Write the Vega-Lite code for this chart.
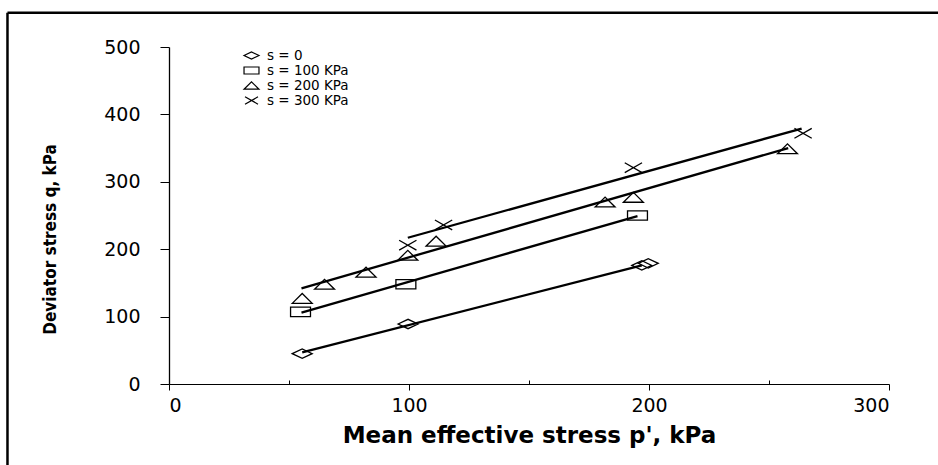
{
  "$schema": "https://vega.github.io/schema/vega-lite/v6.json",
  "width": 720,
  "height": 337,
  "autosize": {"type": "none"},
  "padding": {"left": 169, "top": 47, "right": 49, "bottom": 81},
  "background": "white",
  "config": {
    "view": {"stroke": null},
    "axis": {"domainColor": "black", "tickColor": "black", "labelColor": "black", "titleColor": "black", "grid": false}
  },
  "datasets": {
    "points": [
      {"series": "s = 0", "p": 55.5, "q": 45},
      {"series": "s = 0", "p": 99.6, "q": 89},
      {"series": "s = 0", "p": 197, "q": 176},
      {"series": "s = 0", "p": 199.7, "q": 179},
      {"series": "s = 100 KPa", "p": 54.8, "q": 107},
      {"series": "s = 100 KPa", "p": 98.7, "q": 148},
      {"series": "s = 100 KPa", "p": 195.2, "q": 250},
      {"series": "s = 200 KPa", "p": 55.5, "q": 127},
      {"series": "s = 200 KPa", "p": 64.8, "q": 148},
      {"series": "s = 200 KPa", "p": 82.1, "q": 166},
      {"series": "s = 200 KPa", "p": 99.5, "q": 191},
      {"series": "s = 200 KPa", "p": 111.3, "q": 212},
      {"series": "s = 200 KPa", "p": 181.7, "q": 270},
      {"series": "s = 200 KPa", "p": 193.5, "q": 277},
      {"series": "s = 200 KPa", "p": 257.7, "q": 349},
      {"series": "s = 300 KPa", "p": 99.5, "q": 206},
      {"series": "s = 300 KPa", "p": 114.4, "q": 236},
      {"series": "s = 300 KPa", "p": 193.5, "q": 321},
      {"series": "s = 300 KPa", "p": 264.2, "q": 372}
    ],
    "fits": [
      {"series": "s = 0", "p": 55.5, "q": 47},
      {"series": "s = 0", "p": 197, "q": 176},
      {"series": "s = 100 KPa", "p": 55.2, "q": 106},
      {"series": "s = 100 KPa", "p": 195.2, "q": 249},
      {"series": "s = 200 KPa", "p": 55.2, "q": 142},
      {"series": "s = 200 KPa", "p": 258, "q": 350},
      {"series": "s = 300 KPa", "p": 99.5, "q": 217},
      {"series": "s = 300 KPa", "p": 263.6, "q": 379}
    ]
  },
  "layer": [
    {
      "data": {"name": "fits"},
      "mark": {"type": "line", "color": "black", "strokeWidth": 2.3},
      "encoding": {
        "x": {"field": "p", "type": "quantitative", "scale": {"domain": [0, 300], "nice": false},
          "axis": {"orient": "bottom", "values": [0, 50, 100, 150, 200, 250, 300],
            "tickSize": {"condition": {"test": "datum.value % 100 === 0", "value": 6}, "value": -4},
            "labelExpr": "datum.value % 100 === 0 ? datum.label : ''",
            "domainWidth": 1, "labelFont": "DejaVu Sans", "labelFontSize": 19, "labelPadding": 6,
            "title": "Mean effective stress p', kPa", "titleFont": "DejaVu Sans", "titleFontSize": 23, "titleFontWeight": "bold", "titlePadding": 9}},
        "y": {"field": "q", "type": "quantitative", "scale": {"domain": [0, 500], "nice": false},
          "axis": {"orient": "left", "values": [0, 50, 100, 150, 200, 250, 300, 350, 400, 450, 500],
            "tickSize": {"condition": {"test": "datum.value % 100 === 0", "value": 9}, "value": -6},
            "labelExpr": "datum.value % 100 === 0 ? datum.label : ''",
            "domainWidth": 1.3, "labelFont": "DejaVu Sans", "labelFontSize": 19, "labelPadding": 20,
            "title": "Deviator stress q, kPa", "titleFont": "Liberation Sans Narrow, DejaVu Sans Condensed, sans-serif", "titleFontSize": 17, "titleFontWeight": "bold", "titlePadding": 44, "titleY": 192}},
        "detail": {"field": "series"}
      }
    },
    {
      "data": {"name": "points"},
      "mark": {"type": "point", "filled": false, "color": "black", "strokeWidth": 1.3, "opacity": 1, "size": 300},
      "encoding": {
        "x": {"field": "p", "type": "quantitative"},
        "y": {"field": "q", "type": "quantitative"},
        "shape": {"field": "series", "type": "nominal",
          "scale": {"domain": ["s = 0", "s = 100 KPa", "s = 200 KPa", "s = 300 KPa"],
            "range": ["M-1.15,0L0,-0.54L1.15,0L0,0.54Z", "M-1.15,-0.54L1.15,-0.54L1.15,0.54L-1.15,0.54Z", "M-1.15,0.57L0,-0.57L1.15,0.57Z", "M-1,-0.57L1,0.57M-1,0.57L1,-0.57"]},
          "legend": {"orient": "none", "legendX": 75, "legendY": 1, "title": null, "symbolSize": 169, "symbolStrokeColor": "black", "symbolFillColor": "transparent", "symbolStrokeWidth": 1.2,
            "labelFont": "DejaVu Sans", "labelFontSize": 13.5, "labelColor": "black", "labelOffset": 8, "rowPadding": 1, "padding": 0}}
      }
    },
    {
      "data": {"values": [{}]},
      "mark": {"type": "rule", "color": "black", "strokeWidth": 2.5, "clip": false},
      "encoding": {
        "x": {"datum": -67.3, "type": "quantitative"},
        "y": {"datum": 551, "type": "quantitative"},
        "y2": {"datum": -130}
      }
    },
    {
      "data": {"values": [{}]},
      "mark": {"type": "rule", "color": "black", "strokeWidth": 2.5, "clip": false},
      "encoding": {
        "x": {"datum": -67.3, "type": "quantitative"},
        "x2": {"datum": 325},
        "y": {"datum": 551, "type": "quantitative"}
      }
    }
  ]
}
